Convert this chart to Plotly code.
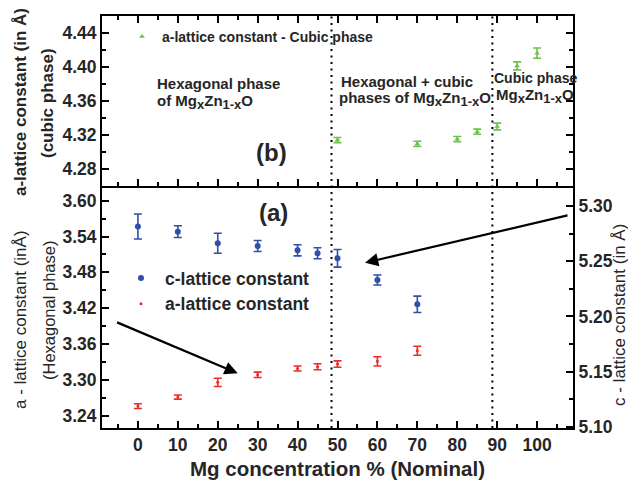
import plotly.graph_objects as go

# ---------------- data ----------------
mg_hex = [0, 10, 20, 30, 40, 45, 50, 60, 70]
c_lattice = [5.2813, 5.2767, 5.2662, 5.2637, 5.2598, 5.2571, 5.2526, 5.2329, 5.2109]
c_lattice_err = [0.0113, 0.0053, 0.009, 0.005, 0.005, 0.005, 0.008, 0.0045, 0.0074]
a_lattice_hex = [3.2561, 3.2712, 3.2958, 3.3085, 3.3191, 3.3220, 3.3265, 3.3310, 3.3487]
a_lattice_hex_err = [0.004, 0.0034, 0.007, 0.0045, 0.0042, 0.005, 0.0053, 0.0078, 0.0075]
mg_cub = [50, 70, 80, 85, 90, 95, 100]
a_lattice_cub = [4.3140, 4.3096, 4.3152, 4.3239, 4.3300, 4.4013, 4.4163]
a_lattice_cub_err = [0.003, 0.003, 0.003, 0.003, 0.004, 0.0047, 0.006]
phase_bounds = [48.5, 88.8]

# ---------------- styling ----------------
FONT = "Liberation Sans, Arial, sans-serif"
TXT = "#262626"
BLUE = "#2f4fa8"
RED = "#ee2a2a"
GREEN = "#6cc24a"
W, H = 628, 480
L, R, T, B = 102, 55, 16, 52
PW, PH = W - L - R, H - T - B
split_px = 186
split = (H - B - split_px) / PH


def px(x):
    return (x - L) / PW


def py(y):
    return (H - B - y) / PH


fig = go.Figure()

fig.add_trace(go.Scatter(
    x=mg_cub, y=a_lattice_cub, xaxis="x2", yaxis="y3", mode="markers",
    name="a-lattice constant - Cubic phase", legend="legend2",
    marker=dict(symbol="triangle-up", size=5, color=GREEN),
    error_y=dict(type="data", array=a_lattice_cub_err, color=GREEN, thickness=1.6, width=4),
))
fig.add_trace(go.Scatter(
    x=mg_hex, y=c_lattice, xaxis="x", yaxis="y2", mode="markers",
    name="c-lattice constant", legend="legend",
    marker=dict(symbol="circle", size=6, color=BLUE),
    error_y=dict(type="data", array=c_lattice_err, color=BLUE, thickness=1.6, width=4),
))
fig.add_trace(go.Scatter(
    x=mg_hex, y=a_lattice_hex, xaxis="x", yaxis="y", mode="markers",
    name="a-lattice constant", legend="legend",
    marker=dict(symbol="circle", size=3, color=RED),
    error_y=dict(type="data", array=a_lattice_hex_err, color=RED, thickness=1.6, width=4),
))

tickfont = dict(family=FONT, size=17.5, color=TXT, weight="bold")
common = dict(showline=True, linecolor="black", linewidth=2, ticks="inside",
              ticklen=7, tickwidth=2, tickcolor="black", showgrid=False,
              zeroline=False, tickfont=tickfont)

shapes = []
for xb in phase_bounds:
    shapes.append(dict(type="line", xref="x", yref="paper", x0=xb, x1=xb, y0=0, y1=1,
                       line=dict(color="black", width=2, dash="2px,4.5px")))

annotations = []


def txt(x, y, s, size, xanchor="left", bold=True, angle=0):
    annotations.append(dict(
        x=px(x), y=py(y), xref="paper", yref="paper", text=("<b>%s</b>" % s) if bold else s,
        showarrow=False, xanchor=xanchor, yanchor="middle", textangle=angle,
        font=dict(family=FONT, size=size, color=TXT)))


def mgzno(size):
    s = '<span style="font-size:%dpx">' % size
    return "Mg<sub>%sx</span></sub>Zn<sub>%s1-x</span></sub>O" % (s, s)


txt(155, 83, "Hexagonal phase", 15)
txt(155, 102, "of " + mgzno(13), 15)
txt(271, 153, "(b)", 24, xanchor="center")
txt(339, 81, "Hexagonal + cubic", 15)
txt(337, 99, "phases of " + mgzno(13), 15)
txt(492, 78, "Cubic phase", 14)
txt(494, 96, mgzno(13), 15)
txt(273, 212, "(a)", 24, xanchor="center")

# axis titles
txt(20, 102, "a-lattice constant (in Å)", 17, xanchor="center", angle=-90)
txt(47, 103, "(cubic phase)", 17, xanchor="center", angle=-90)
txt(20, 320, "a - lattice constant (inÅ)", 17, xanchor="center", bold=False, angle=-90)
txt(49, 311, "(Hexagonal phase)", 16.5, xanchor="center", bold=False, angle=-90)
txt(619, 315, "c - lattice constant (in Å)", 17, xanchor="center", bold=False, angle=-90)
txt(337, 468, "Mg concentration % (Nominal)", 20.5, xanchor="center")

# arrows
annotations.append(dict(x=25, y=3.3109, ax=-5.6, ay=3.3973, xref="x", yref="y",
                        axref="x", ayref="y", showarrow=True, arrowhead=2, arrowsize=1.2,
                        arrowwidth=2.2, arrowcolor="black", standoff=0, text=""))
annotations.append(dict(x=56.9, y=3.4961, ax=108, ay=3.576, xref="x", yref="y",
                        axref="x", ayref="y", showarrow=True, arrowhead=2, arrowsize=1.2,
                        arrowwidth=2.2, arrowcolor="black", standoff=0, text=""))

fig.update_layout(
    width=W, height=H, margin=dict(l=L, r=R, t=T, b=B),
    paper_bgcolor="white", plot_bgcolor="white",
    font=dict(family=FONT, color=TXT),
    xaxis=dict(domain=[0, 1], anchor="y", range=[-9, 109], tick0=0, dtick=10,
               minor=dict(dtick=5, tick0=0, ticklen=4, tickwidth=2, tickcolor="black", ticks="inside"),
               ticklabelstandoff=0, **common),
    xaxis2=dict(domain=[0, 1], anchor="y3", range=[-9, 109], tick0=0, dtick=10,
                showticklabels=False, mirror="ticks", matches="x",
                minor=dict(dtick=5, tick0=0, ticklen=4, tickwidth=2, tickcolor="black", ticks="inside"),
                **common),
    yaxis=dict(domain=[0, split], anchor="x", range=[3.2194, 3.6246], tick0=3.24, dtick=0.06,
               tickformat=".2f",
               minor=dict(dtick=0.03, tick0=3.24, ticklen=4, tickwidth=2, tickcolor="black", ticks="inside"),
               **common),
    yaxis2=dict(overlaying="y", side="right", anchor="x", range=[5.099, 5.318], tick0=5.10,
                dtick=0.05, tickformat=".2f",
                minor=dict(dtick=0.025, tick0=5.10, ticklen=4, tickwidth=2, tickcolor="black", ticks="inside"),
                **common),
    yaxis3=dict(domain=[split, 1], anchor="x2", range=[4.26, 4.46], tick0=4.28, dtick=0.04,
                tickformat=".2f", mirror="ticks",
                minor=dict(dtick=0.02, tick0=4.28, ticklen=4, tickwidth=2, tickcolor="black", ticks="inside"),
                **common),
    legend=dict(x=px(117), y=py(260), xanchor="left", yanchor="top", bgcolor="rgba(0,0,0,0)",
                itemwidth=38,
                font=dict(family=FONT, size=17.5, color=TXT, weight="bold"), tracegroupgap=0),
    legend2=dict(x=px(122), y=py(21), xanchor="left", yanchor="top", bgcolor="rgba(0,0,0,0)",
                 font=dict(family=FONT, size=14, color=TXT, weight="bold")),
    showlegend=True,
    shapes=shapes,
    annotations=annotations,
)

fig.write_html("out.html")
